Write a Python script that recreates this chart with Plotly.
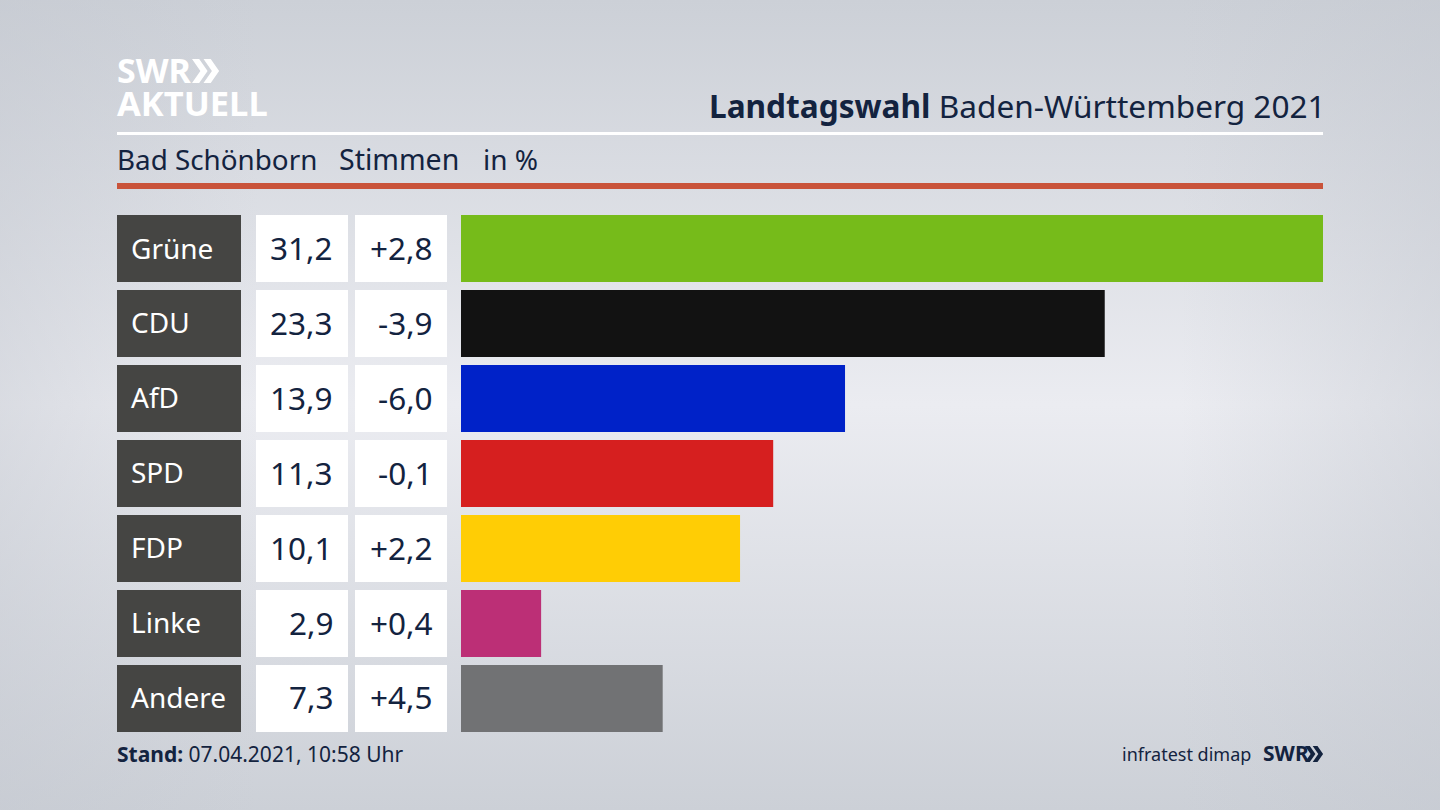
import base64
import plotly.graph_objects as go

parties = ["Grüne", "CDU", "AfD", "SPD", "FDP", "Linke", "Andere"]
stimmen = [31.2, 23.3, 13.9, 11.3, 10.1, 2.9, 7.3]
stimmen_labels = ["31,2", "23,3", "13,9", "11,3", "10,1", "2,9", "7,3"]
diff_labels = ["+2,8", "-3,9", "-6,0", "-0,1", "+2,2", "+0,4", "+4,5"]
colors = ["#76bb1a", "#121212", "#0022c8", "#d61f1f", "#ffcd05", "#bc2f76", "#717274"]

W, H = 1440, 810
INK = "#13233f"
FONT = "Noto Sans"


def px(x):
    return x / W


def py(y):
    return 1 - y / H


def text(x, y, s, size, anchor="left", color=INK):
    # annotations sit a little inside their anchor, xshift takes that out
    shift = -2 if anchor == "left" else 2
    return dict(x=px(x), y=py(y), xref="paper", yref="paper", text=s, showarrow=False,
                xanchor=anchor, yanchor="middle", align=anchor, xshift=shift,
                font=dict(family=FONT, size=size, color=color))


def chevrons(x, y, h, color):
    # the two arrows of the SWR logo
    w = h * 0.35
    t = h * 0.3
    path = ""
    for dx in (0, h * 0.48):
        x0 = x + dx
        path += (f"M{px(x0)},{py(y)} L{px(x0 + t)},{py(y)} L{px(x0 + t + w)},{py(y + h / 2)} "
                 f"L{px(x0 + t)},{py(y + h)} L{px(x0)},{py(y + h)} L{px(x0 + w)},{py(y + h / 2)} Z ")
    return dict(type="path", path=path, xref="paper", yref="paper", fillcolor=color, line_width=0)


svg = f"""<svg xmlns="http://www.w3.org/2000/svg" width="{W}" height="{H}">
<defs><linearGradient id="v" x1="0" y1="0" x2="0" y2="1">
<stop offset="0%" stop-color="#ccd0d7"/><stop offset="50%" stop-color="#ebecf1"/>
<stop offset="100%" stop-color="#ccd0d7"/></linearGradient>
<linearGradient id="h" x1="0" y1="0" x2="1" y2="0">
<stop offset="0%" stop-color="#c4c8d0" stop-opacity="0.45"/><stop offset="18%" stop-color="#c4c8d0" stop-opacity="0"/>
<stop offset="82%" stop-color="#c4c8d0" stop-opacity="0"/><stop offset="100%" stop-color="#c4c8d0" stop-opacity="0.45"/>
</linearGradient></defs>
<rect width="{W}" height="{H}" fill="url(#v)"/><rect width="{W}" height="{H}" fill="url(#h)"/></svg>"""
background = "data:image/svg+xml;base64," + base64.b64encode(svg.encode()).decode()

fig = go.Figure(go.Bar(x=stimmen, y=parties, orientation="h", marker=dict(color=colors, line_width=0),
                       width=0.895, hoverinfo="skip"))

shapes = [
    dict(type="rect", xref="paper", yref="paper", x0=px(117), x1=px(1323), y0=py(132), y1=py(135),
         fillcolor="white", line_width=0),
    dict(type="rect", xref="paper", yref="paper", x0=px(117), x1=px(1323), y0=py(183), y1=py(189),
         fillcolor="#c9533a", line_width=0),
    chevrons(192, 59, 24, "white"),
    chevrons(1305, 746, 16, INK),
]
logo = ('<span style="font-size:34px"><b>SWR</b></span><br>'
        '<span style="font-size:34.5px"><b>AKTUELL</b></span>')
annotations = [
    text(117, 87, logo, 25.4, color="white"),
    text(1326, 105, "<b>Landtagswahl</b> Baden-Württemberg 2021", 31.6, "right"),
    text(117, 159, "Bad Schönborn", 27.8),
    text(339, 159, "Stimmen", 28.5),
    text(483, 159, "in %", 28),
    text(117, 754, "<b>Stand:</b> 07.04.2021, 10:58 Uhr", 21),
    text(1251, 754, "infratest dimap", 18, "right"),
    text(1263, 753, "<b>SWR</b>", 21),
]

for i, party in enumerate(parties):
    for x0, x1, fill in [(117, 241, "#454543"), (256, 348, "white"), (355, 447, "white")]:
        shapes.append(dict(type="rect", xref="paper", yref="y", x0=px(x0), x1=px(x1),
                           y0=i - 0.4475, y1=i + 0.4475, fillcolor=fill, line_width=0, layer="below"))
    row_y = 247.5 + i * 74.9
    annotations.append(text(131, row_y, party, 28, color="white"))
    annotations.append(text(333, row_y, stimmen_labels[i], 31.5, "right"))
    annotations.append(text(433, row_y, diff_labels[i], 31.5, "right"))

fig.update_layout(
    width=W, height=H, autosize=False,
    margin=dict(l=0, r=0, t=0, b=0),
    paper_bgcolor="#dfe1e7", plot_bgcolor="rgba(0,0,0,0)",
    showlegend=False,
    xaxis=dict(domain=[px(461), px(1323)], range=[0, 31.2], visible=False),
    yaxis=dict(domain=[py(736), py(211)], categoryorder="array", categoryarray=parties,
               autorange="reversed", visible=False),
    images=[dict(source=background, xref="paper", yref="paper", x=0, y=1, sizex=1, sizey=1,
                 sizing="stretch", layer="below", xanchor="left", yanchor="top")],
    shapes=shapes,
    annotations=annotations,
)

fig.write_html("out.html", config=dict(displayModeBar=False),
               post_script="document.body.style.margin='0';document.body.style.overflow='hidden';")
